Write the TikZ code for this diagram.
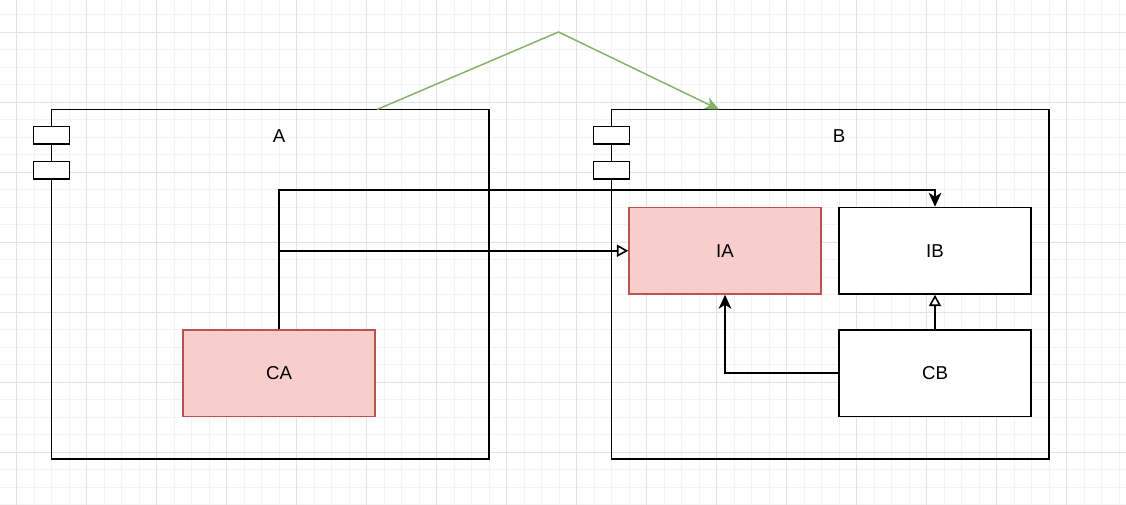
\documentclass[tikz,border=0pt]{standalone}
\usepackage{fontspec}
\setmainfont{Liberation Sans}
\usetikzlibrary{positioning,arrows.meta,calc}
\definecolor{gridMinor}{HTML}{F3F3F3}
\definecolor{gridMajor}{HTML}{E3E3E3}
\definecolor{ifaceFill}{HTML}{F8CECC}
\definecolor{ifaceLine}{HTML}{B85450}
\definecolor{useGreen}{HTML}{82B366}

\begin{document}
\begin{tikzpicture}[x=0.75pt, y=-0.75pt, font=\fontsize{14}{16}\selectfont,
  comp/.style={draw, line width=1.1pt, minimum width=328.1pt, minimum height=262.1pt, inner sep=0pt},
  port/.style={draw, fill=white, line width=1.1pt, minimum width=27pt, minimum height=13.1pt, inner sep=0pt},
  cls/.style={draw, fill=white, line width=1.1pt, minimum width=144pt, minimum height=64.9pt, inner sep=0pt},
  iface/.style={cls, draw=ifaceLine, fill=ifaceFill},
  dep/.style={line width=1.2pt, -{Stealth[length=10.5pt, width=9.5pt, inset=3pt]}},
  impl/.style={line width=1.2pt, -{Triangle[open, fill=white, length=8.5pt, width=9pt]}},
  usedep/.style={useGreen, line width=1.1pt, -{Stealth[length=10.5pt, width=9.5pt, inset=3pt]}}]
  \useasboundingbox (0,0) rectangle (1126,505);
  \fill[white] (0,0) rectangle (1126,505);

  % grid
  \foreach \gx in {16.7,34.2,...,1126} \draw[gridMinor, line width=0.7pt] (\gx,0) -- (\gx,505);
  \foreach \gy in {14.5,32,...,505} \draw[gridMinor, line width=0.7pt] (0,\gy) -- (1126,\gy);
  \foreach \gx in {16.7,86.7,...,1126} \draw[gridMajor, line width=0.7pt] (\gx,0) -- (\gx,505);
  \foreach \gy in {32,102,...,505} \draw[gridMajor, line width=0.7pt] (0,\gy) -- (1126,\gy);

  % components
  \node[comp] (A) at (270.25,284.25) {};
  \node[comp] (B) at (830.25,284.25) {};
  \node[port] (Ap1) at (51.5,135.4) {};
  \node[port] (Ap2) at (51.5,170.5) {};
  \node[port] (Bp1) at (611.5,135.4) {};
  \node[port] (Bp2) at (611.5,170.5) {};
  \node (Alab) at (279,136) {A};
  \node (Blab) at (839,136) {B};

  % classes
  \node[iface] (CA) at (279,373.25) {CA};
  \node[iface] (IA) at (725,250.75) {IA};
  \node[cls] (IB) at (935,250.75) {IB};
  \node[cls] (CB) at (935,373.25) {CB};

  % connectors
  \coordinate (bend) at (279,190);
  \draw[dep] (CA.north) -- (bend) -| (IB.north);
  \draw[impl] (CA.north |- IA.west) -- (IA.west);
  \draw[impl] (CB.north) -- (IB.south);
  \draw[dep] (CB.west) -| (IA.south);

  % A uses B
  \coordinate (gA) at (377,109.5);
  \coordinate (gTop) at (558.5,32);
  \coordinate (gB) at (719,109.5);
  \draw[usedep] (gA) -- (gTop) -- (gB);
\end{tikzpicture}
\end{document}
